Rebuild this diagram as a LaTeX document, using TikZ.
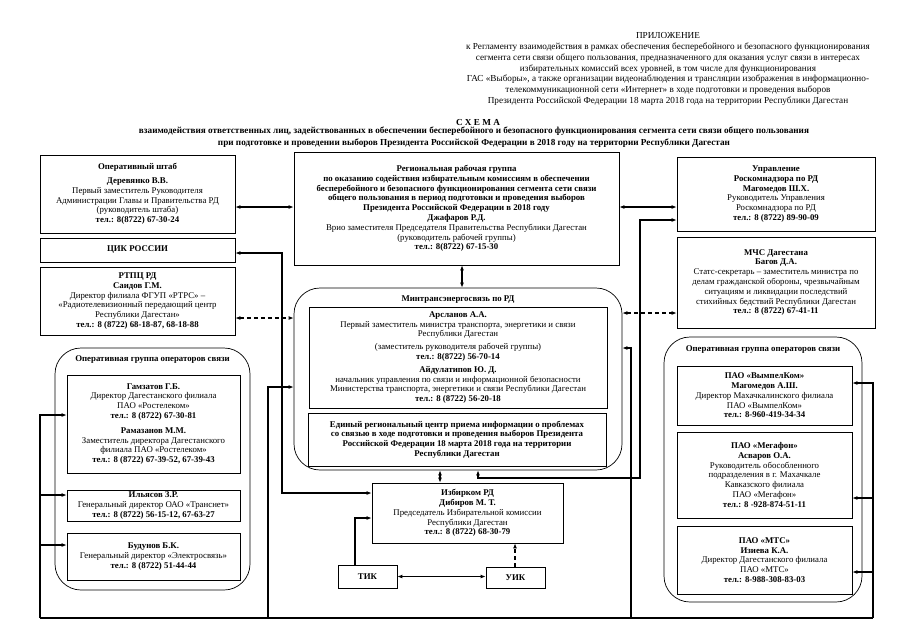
\documentclass[tikz,border=0pt]{standalone}
\usepackage{fontspec}
\setmainfont{Liberation Serif}
\usetikzlibrary{arrows.meta}
\newcommand\bfs{\fontsize{8.8}{9.8}\selectfont}
\newcommand\hfs{\fontsize{9.2}{10.7}\selectfont}
\newcommand\tfs{\fontsize{9.2}{11.5}\selectfont}
\tikzset{
  box/.style={draw, line width=0.7pt, align=center, inner sep=2pt, font=\bfs},
  grp/.style={draw, line width=0.7pt, rounded corners=26pt},
  conn/.style={line width=1.1pt},
  arr/.style={conn, -{Latex[length=5pt,width=4pt]}},
  dbl/.style={conn, {Latex[length=5pt,width=4pt]}-{Latex[length=5pt,width=4pt]}},
  dsh/.style={dash pattern=on 4pt off 3pt},
  lbl/.style={align=center, inner sep=0pt, font=\bfs},
}
\begin{document}
\begin{tikzpicture}[x=1pt,y=-1pt]
\fill[white] (0,0) rectangle (905,640);
\useasboundingbox (0,0) rectangle (905,640);

% header
\node[lbl, font=\hfs] (hdr) at (668,69) {ПРИЛОЖЕНИЕ\\
к Регламенту взаимодействия в рамках обеспечения бесперебойного и безопасного функционирования\\
сегмента сети связи общего пользования, предназначенного для оказания услуг связи в интересах\\
избирательных комиссий всех уровней, в том числе для функционирования\\
ГАС «Выборы», а также организации видеонаблюдения и трансляции изображения в информационно-\\
телекоммуникационной сети «Интернет» в ходе подготовки и проведения выборов\\
Президента Российской Федерации 18 марта 2018 года на территории Республики Дагестан};

% title
\node[lbl, font=\tfs\bfseries] (ttl) at (478,122) {С Х Е М А};
\node[lbl, font=\tfs\bfseries] (ttl2) at (474,137) {взаимодействия ответственных лиц, задействованных в обеспечении бесперебойного и безопасного функционирования сегмента сети связи общего пользования\\
при подготовке и проведении выборов Президента Российской Федерации в 2018 году на территории Республики Дагестан};

% top row
\node[box, minimum width=195pt, minimum height=78pt] (A) at (137.5,194) {\textbf{Оперативный штаб}\\[4pt]
\textbf{Деревянко В.В.}\\
Первый заместитель Руководителя\\
Администрации Главы и Правительства РД\\
(руководитель штаба)\\
\textbf{тел.: 8(8722) 67-30-24}};

\node[box, minimum width=325pt, minimum height=113pt] (B) at (456.5,208.5) {\textbf{Региональная рабочая группа}\\
\textbf{по оказанию содействия избирательным комиссиям в обеспечении}\\
\textbf{бесперебойного и безопасного функционирования сегмента сети связи}\\
\textbf{общего пользования в период подготовки и проведения выборов}\\
\textbf{Президента Российской Федерации в 2018 году}\\
\textbf{Джафаров Р.Д.}\\
Врио заместителя Председателя Правительства Республики Дагестан\\
(руководитель рабочей группы)\\
\textbf{тел.: 8(8722) 67-15-30}};

\node[box, minimum width=198pt, minimum height=74pt] (C) at (776,194) {\textbf{Управление}\\
\textbf{Роскомнадзора по РД}\\
\textbf{Магомедов Ш.Х.}\\
Руководитель Управления\\
Роскомнадзора по РД\\
\textbf{тел.: 8 (8722) 89-90-09}};

\node[box, minimum width=195pt, minimum height=24pt] (D) at (137.5,250) {\textbf{ЦИК РОССИИ}};

\node[box, minimum width=195pt, minimum height=68pt] (E) at (137.5,301) {\textbf{РТПЦ РД}\\
\textbf{Саидов Г.М.}\\
Директор филиала ФГУП «РТРС» –\\
«Радиотелевизионный передающий центр\\
Республики Дагестан»\\
\textbf{тел.: 8 (8722) 68-18-87, 68-18-88}};

\node[box, minimum width=198pt, minimum height=91pt] (F) at (776,282.5) {\textbf{МЧС Дагестана}\\
\textbf{Багов Д.А.}\\
Статс-секретарь – заместитель министра по\\
делам гражданской обороны, чрезвычайным\\
ситуациям и ликвидации последствий\\
стихийных бедствий Республики Дагестан\\
\textbf{тел.: 8 (8722) 67-41-11}};

% Минтрансэнергосвязь
\node[grp, minimum width=328pt, minimum height=182pt] (G) at (458,379) {};
\node[lbl] (Gt) at (458,300) {\textbf{Минтрансэнергосвязь по РД}};
\node[box, minimum width=298pt, minimum height=101pt] (G1) at (458,357.5) {\textbf{Арсланов А.А.}\\
Первый заместитель министра транспорта, энергетики и связи\\
Республики Дагестан\\[3pt]
(заместитель руководителя рабочей группы)\\
\textbf{тел.: 8(8722) 56-70-14}\\[3pt]
\textbf{Айдулатипов Ю. Д.}\\
начальник управления по связи и информационной безопасности\\
Министерства транспорта, энергетики и связи Республики Дагестан\\
\textbf{тел.: 8 (8722) 56-20-18}};
\node[box, minimum width=298pt, minimum height=53pt, font=\bfs\bfseries] (G2) at (457,439.5) {Единый региональный центр приема информации о проблемах\\
со связью в ходе подготовки и проведения выборов Президента\\
Российской Федерации 18 марта 2018 года на территории\\
Республики Дагестан};

% left group
\node[grp, minimum width=195pt, minimum height=242pt] (H) at (152.5,469) {};
\node[lbl] (Ht) at (152.5,360) {\textbf{Оперативная группа операторов связи}};
\node[box, minimum width=173pt, minimum height=98pt] (H1) at (153.5,424) {\textbf{Гамзатов Г.Б.}\\
Директор Дагестанского филиала\\
ПАО «Ростелеком»\\
\textbf{тел.: 8 (8722) 67-30-81}\\[5pt]
\textbf{Рамазанов М.М.}\\
Заместитель директора Дагестанского\\
филиала ПАО «Ростелеком»\\
\textbf{тел.: 8 (8722) 67-39-52, 67-39-43}};
\node[box, minimum width=173pt, minimum height=31pt] (H2) at (153.5,505.5) {\textbf{Ильясов З.Р.}\\
Генеральный директор ОАО «Транснет»\\
\textbf{тел.: 8 (8722) 56-15-12, 67-63-27}};
\node[box, minimum width=173pt, minimum height=47pt] (H3) at (153.5,556.5) {\textbf{Будунов Б.К.}\\
Генеральный директор «Электросвязь»\\
\textbf{тел.: 8 (8722) 51-44-44}};

% right group
\node[grp, minimum width=198pt, minimum height=265pt] (I) at (763,469.5) {};
\node[lbl] (It) at (763,350) {\textbf{Оперативная группа операторов связи}};
\node[box, minimum width=175pt, minimum height=59pt] (I1) at (764.5,395.5) {\textbf{ПАО «ВымпелКом»}\\
\textbf{Магомедов А.Ш.}\\
Директор Махачкалинского филиала\\
ПАО «ВымпелКом»\\
\textbf{тел.: 8-960-419-34-34}};
\node[box, minimum width=175pt, minimum height=86pt] (I2) at (764.5,475) {\textbf{ПАО «Мегафон»}\\
\textbf{Асваров О.А.}\\
Руководитель обособленного\\
подразделения в г. Махачкале\\
Кавказского филиала\\
ПАО «Мегафон»\\
\textbf{тел.: 8 -928-874-51-11}};
\node[box, minimum width=175pt, minimum height=68pt] (I3) at (764.5,560) {\textbf{ПАО «МТС»}\\
\textbf{Изиева К.А.}\\
Директор Дагестанского филиала\\
ПАО «МТС»\\
\textbf{тел.: 8-988-308-83-03}};

% bottom
\node[box, minimum width=191pt, minimum height=60pt] (J) at (467.5,513) {\textbf{Избирком РД}\\
\textbf{Дибиров М. Т.}\\
Председатель Избирательной комиссии\\
Республики Дагестан\\
\textbf{тел.: 8 (8722) 68-30-79}};
\node[box, minimum width=59pt, minimum height=23pt] (K) at (367.5,576.5) {\textbf{ТИК}};
\node[box, minimum width=59pt, minimum height=21pt] (L) at (515.5,577.5) {\textbf{УИК}};

% junction coordinates
\coordinate (v1t) at (282,253);
\coordinate (v1b) at (282,493);
\coordinate (v2t) at (268,387);
\coordinate (v2e) at (268,618);
\coordinate (v3t) at (640,220);
\coordinate (v3b) at (640,478);
\coordinate (eb) at (478,478);
\coordinate (v4t) at (631,348);
\coordinate (v4e) at (631,618);
\coordinate (lvt) at (40,415);
\coordinate (lva) at (40,495);
\coordinate (lvb) at (40,545);
\coordinate (lve) at (40,618);
\coordinate (rvt) at (873,383);
\coordinate (rva) at (873,498);
\coordinate (rvb) at (873,572);
\coordinate (rve) at (873,618);
\coordinate (tk) at (355,518);

% connectors
\draw[dbl] (A.east |- 0,207) -- (B.west |- 0,207);
\draw[dbl] (B.east |- 0,207) -- (C.west |- 0,207);
\draw[dbl] (B.south -| 462,0) -- (G.north -| 462,0);
\draw[dbl] (D.east |- v1t) -- (v1t) -- (v1b) -- (J.west |- v1b);
\draw[arr] (v2e) -- (v2t) -- (G.west |- v2t);
\draw[dbl, dsh] (E.east |- 0,318) -- (G.west |- 0,318);
\draw[dbl] (C.west |- v3t) -- (v3t) -- (v3b) -- (eb) -- (G.south -| eb);
\draw[arr] (v4e) -- (v4t) -- (G.east |- v4t);
\draw[dbl, dsh] (G.east |- 0,313) -- (F.west |- 0,313);
\draw[dbl] (J.north -| 440,0) -- (G.south -| 440,0);
\draw[arr] (K.north -| tk) -- (tk) -- (J.west |- tk);
\draw[dbl] (K.east) -- (L.west |- K.east);
\draw[arr, dsh] (L.north -| 515,0) -- (J.south -| 515,0);
\draw[arr] (lve) -- (lvt) -- (H1.west |- lvt);
\draw[arr] (lva) -- (H2.west |- lva);
\draw[arr] (lvb) -- (H3.west |- lvb);
\draw[arr] (rve) -- (rvt) -- (I1.east |- rvt);
\draw[arr] (rva) -- (I2.east |- rva);
\draw[arr] (rvb) -- (I3.east |- rvb);
\draw[conn] (lve) -- (rve);
\end{tikzpicture}
\end{document}
